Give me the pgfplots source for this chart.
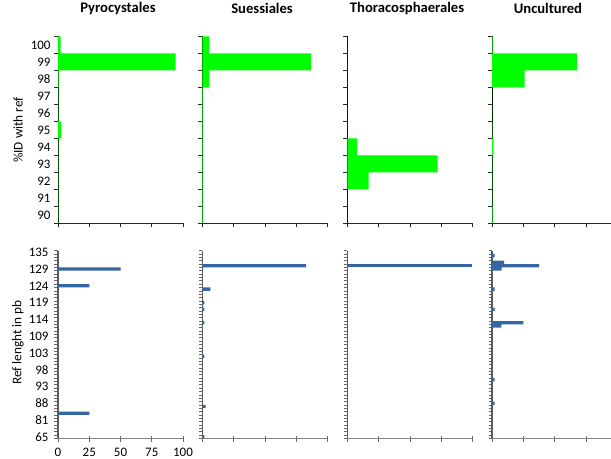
\documentclass[border=0pt]{standalone}
\usepackage{pgfplots}
\pgfplotsset{compat=1.18}
\usepackage{fontspec}
\setmainfont{Carlito}
\definecolor{barg}{RGB}{0,255,0}
\definecolor{barb}{RGB}{52,101,164}
\definecolor{axgray}{RGB}{130,130,130}
\definecolor{axdark}{RGB}{40,40,40}

\pgfplotsset{
  base/.style={
    scale only axis, xbar, bar width=1,
    axis x line*=bottom, axis y line*=left,
    x axis line style={-}, y axis line style={-},
    xmin=0, xmax=100,
    xtick={0,25,50,75,100},
    xticklabels={},
    tick label style={font=\fontsize{13}{15}\selectfont},
    /pgf/number format/assume math mode=true,
    tick align=outside,
    major y tick style={draw=none},
    title style={font=\bfseries\fontsize{14.7}{17}\selectfont, anchor=center, yshift=22bp},
  },
  toprow/.style={
    base, width=125bp, height=187bp,
    ymin=89.5, ymax=100.5,
    ytick={90,91,...,100},
    minor ytick={89.5,90.5,...,100.5},
    major tick length=4bp, minor tick length=4bp,
    x axis line style={axdark, line width=0.8bp},
    y axis line style={black, line width=0.9bp},
    every tick/.style={axdark, line width=0.6bp},
  },
  botrow/.style={
    base, width=125bp, height=187.8bp,
    ymin=-0.5, ymax=55.5,
    ytick={0,5,...,55},
    minor ytick={-0.5,0.5,...,55.5},
    major tick length=6bp, minor tick length=3.5bp,
    x axis line style={axgray, line width=1bp},
    y axis line style={axgray!70!black, line width=1.2bp},
    every tick/.style={axgray!80!black, line width=0.6bp},
    major x tick style={yshift=2.6bp},
  },
}

\begin{document}
\begin{tikzpicture}
\path[use as bounding box] (0,0) rectangle (611bp,459bp);

% ---------- top row: %ID with ref ----------
\begin{axis}[toprow, at={(58bp,235.5bp)}, anchor=south west,
  title={Pyrocystales}, title style={at={(axis description cs:0.48,1)}},
  yticklabels={90,91,92,93,94,95,96,97,98,99,100},
  ylabel={\%ID with ref},
  ylabel style={at={(axis description cs:-0.32,0.5)}, anchor=center, font=\fontsize{13.3}{15}\selectfont}]
\addplot[fill=barg, draw=none] coordinates {
 (0.3,90) (0.3,91) (0.3,92) (0.3,93) (0.3,94) (2.5,95) (0.3,96) (0.3,97) (0.5,98) (94,99) (2,100)};
\end{axis}

\begin{axis}[toprow, at={(202.3bp,235.5bp)}, anchor=south west,
  title={Suessiales}, title style={at={(axis description cs:0.478,1)}},
  yticklabels={}]
\addplot[fill=barg, draw=none] coordinates {
 (0.4,90) (0.4,91) (0.4,92) (0.4,93) (0.4,94) (0.4,95) (0.4,96) (0.4,97) (5.6,98) (87,99) (5.6,100)};
\end{axis}

\begin{axis}[toprow, at={(347.3bp,235.5bp)}, anchor=south west,
  title={Thoracosphaerales}, title style={at={(axis description cs:0.478,1)}},
  yticklabels={}]
\addplot[fill=barg, draw=none] coordinates {
 (0,90) (0,91) (17,92) (72.3,93) (7.8,94) (0,95) (0,96) (0,97) (0,98) (0,99) (0,100)};
\end{axis}

\begin{axis}[toprow, at={(492bp,235.5bp)}, anchor=south west, width=119bp, xmax=95,
  xtick={0,25,50,75},
  title={Uncultured}, title style={at={(axis description cs:0.47,1)}},
  yticklabels={}]
\addplot[fill=barg, draw=none] coordinates {
 (0.5,90) (0.3,91) (0.3,92) (0.3,93) (1,94) (0.3,95) (0,96) (0,97) (26,98) (67.7,99) (0.5,100)};
\end{axis}

% ---------- bottom row: Ref length ----------
\begin{axis}[botrow, at={(58bp,20.6bp)}, anchor=south west,
  xticklabels={0,25,50,75,100},
  yticklabels={65,81,88,93,98,103,109,114,119,124,129,135},
  ylabel={Ref lenght in pb},
  ylabel style={at={(axis description cs:-0.32,0.51)}, anchor=center, font=\fontsize{13.3}{15}\selectfont}]
\addplot[fill=barb, draw=none] coordinates {
 (25,7) (25,45) (50,50)};
\end{axis}

\begin{axis}[botrow, at={(202.3bp,20.6bp)}, anchor=south west,
  yticklabels={}]
\addplot[fill=barb, draw=none] coordinates {
 (1.6,0) (2.6,9) (1.6,24) (1.6,34) (1.6,38) (1.6,40) (6.4,44) (83,51)};
\end{axis}

\begin{axis}[botrow, at={(347.3bp,20.6bp)}, anchor=south west,
  yticklabels={}]
\addplot[fill=barb, draw=none] coordinates {
 (100,51)};
\end{axis}

\begin{axis}[botrow, at={(492bp,20.6bp)}, anchor=south west, width=119bp, xmax=95,
  xtick={0,25,50,75},
  yticklabels={}]
\addplot[fill=barb, draw=none] coordinates {
 (2,10) (2,17) (7.5,33) (25,34) (2,38) (2,44) (7.7,50) (37.6,51) (9.6,52) (2,54)};
\end{axis}
\end{tikzpicture}
\end{document}
